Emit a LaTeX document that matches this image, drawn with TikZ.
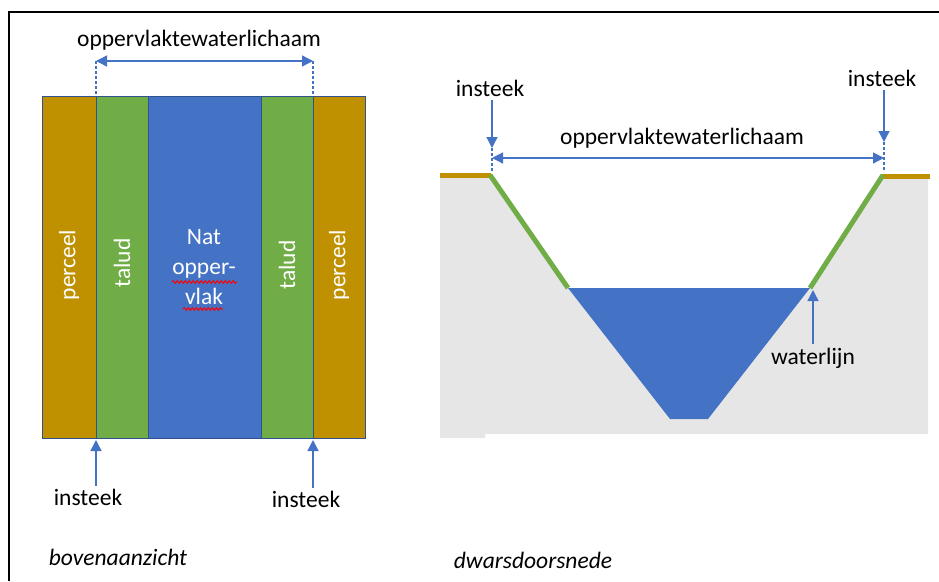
\documentclass[tikz,border=0pt]{standalone}
\usepackage{fontspec}
\setmainfont{Carlito}
\usetikzlibrary{arrows.meta,positioning,decorations.pathmorphing}
\definecolor{perceelkleur}{HTML}{BF9000}
\definecolor{taludkleur}{HTML}{70AD47}
\definecolor{waterkleur}{HTML}{4472C4}
\definecolor{randkleur}{HTML}{2F528F}
\definecolor{grondkleur}{HTML}{E7E6E6}

\begin{document}
\begin{tikzpicture}[x=1pt, y=-1pt,
    tekst/.style={font=\fontsize{23.5}{28}\selectfont, inner sep=0pt},
    schuin/.style={font=\fontsize{23.5}{28}\selectfont\itshape, inner sep=0pt},
    witlabel/.style={font=\fontsize{23.5}{30}\selectfont, text=white, align=center, inner sep=0pt},
    strook/.style={draw=randkleur, line width=0.8pt},
    pijl/.style={-{Triangle[length=11pt,width=11pt]}, line width=1.3pt, draw=waterkleur},
    maat/.style={{Triangle[length=11pt,width=11pt]}-{Triangle[length=11pt,width=11pt]}, line width=1.3pt, draw=waterkleur},
    hulplijn/.style={densely dashed, line width=1.3pt, draw=waterkleur},
    oever/.style={line width=5pt},
    kringel/.style={red, line width=1pt, decorate, decoration={snake, amplitude=1.3pt, segment length=4pt}}
  ]
  \useasboundingbox (0,0) rectangle (939,581);

  % Kader
  \draw[line width=1.2pt] (9,581) -- (9,12) -- (939,12);

  % Bovenaanzicht: stroken
  \foreach \xa/\xb/\kleur in {42/96/perceelkleur, 96/148/taludkleur, 148/261/waterkleur, 261/313/taludkleur, 313/365/perceelkleur}
    \draw[strook, fill=\kleur] (\xa,96) rectangle (\xb,438);

  \node[witlabel, rotate=90] (perceelL) at (69,265) {perceel};
  \node[witlabel, rotate=90] (taludL) at (122,263) {talud};
  \node[witlabel] (nat) at (204,267) {Nat\\opper-\\vlak};
  \node[witlabel, rotate=90] (taludR) at (287,265) {talud};
  \node[witlabel, rotate=90] (perceelR) at (339,265) {perceel};

  % spellingskringels
  \draw[kringel] (172,282) -- (237,282);
  \draw[kringel] (183,309) -- (223,309);

  % Maatlijn boven
  \node[tekst] (owlL) at (199,40) {oppervlaktewaterlichaam};
  \coordinate (maatL1) at (96,61);
  \coordinate (maatL2) at (313,61);
  \coordinate (randL1) at (96,96);
  \coordinate (randL2) at (313,96);
  \draw[hulplijn] (maatL1) -- (randL1);
  \draw[hulplijn] (maatL2) -- (randL2);
  \draw[maat] (maatL1) -- (maatL2);

  % Insteek onder
  \coordinate (onderL1) at (96,440);
  \coordinate (onderL2) at (313,440);
  \node[tekst] (insteek1) at (88,497) {insteek};
  \node[tekst] (insteek2) at (306,499) {insteek};
  \draw[pijl, shorten <=3pt] (insteek1.north -| onderL1) -- (onderL1);
  \draw[pijl, shorten <=3pt] (insteek2.north -| onderL2) -- (onderL2);

  % Dwarsdoorsnede: grond
  \fill[grondkleur] (440,174) -- (490,174) -- (568,288) -- (810,288) -- (882,174) -- (928,174)
    -- (928,434) -- (485,434) -- (485,438) -- (440,438) -- cycle;
  % water
  \fill[waterkleur] (568,288) -- (810,288) -- (708,419) -- (670,419) -- cycle;
  % maaiveld en taluds
  \draw[perceelkleur, oever] (440,175) -- (491,175);
  \draw[perceelkleur, oever] (882,176) -- (930,176);
  \draw[taludkleur, oever] (490,175) -- (568,288);
  \draw[taludkleur, oever] (810,288) -- (883,175);

  % Insteek boven
  \node[tekst] (insteek3) at (490,88) {insteek};
  \node[tekst] (insteek4) at (882,78) {insteek};
  \coordinate (pijlR1) at (492,148);
  \coordinate (pijlR2) at (884,142);
  \coordinate (kruin1) at (492,172);
  \coordinate (kruin2) at (884,172);
  \draw[pijl, shorten <=4pt] (insteek3.south -| pijlR1) -- (pijlR1);
  \draw[pijl, shorten <=4pt] (insteek4.south -| pijlR2) -- (pijlR2);
  \draw[hulplijn] (pijlR1) -- (kruin1);
  \draw[hulplijn] (pijlR2) -- (kruin2);

  % Maatlijn dwarsdoorsnede
  \node[tekst] (owlR) at (682,138) {oppervlaktewaterlichaam};
  \coordinate (maatR1) at (492,158);
  \coordinate (maatR2) at (884,158);
  \draw[maat] (maatR1) -- (maatR2);

  % Waterlijn
  \coordinate (waterpunt) at (813,290);
  \node[tekst] (waterlijn) at (813,358) {waterlijn};
  \draw[pijl, shorten <=4pt] (waterlijn.north) -- (waterpunt);

  % Onderschriften
  \node[schuin] (boven) at (118,557) {bovenaanzicht};
  \node[schuin] (dwars) at (533,560) {dwarsdoorsnede};
\end{tikzpicture}
\end{document}
